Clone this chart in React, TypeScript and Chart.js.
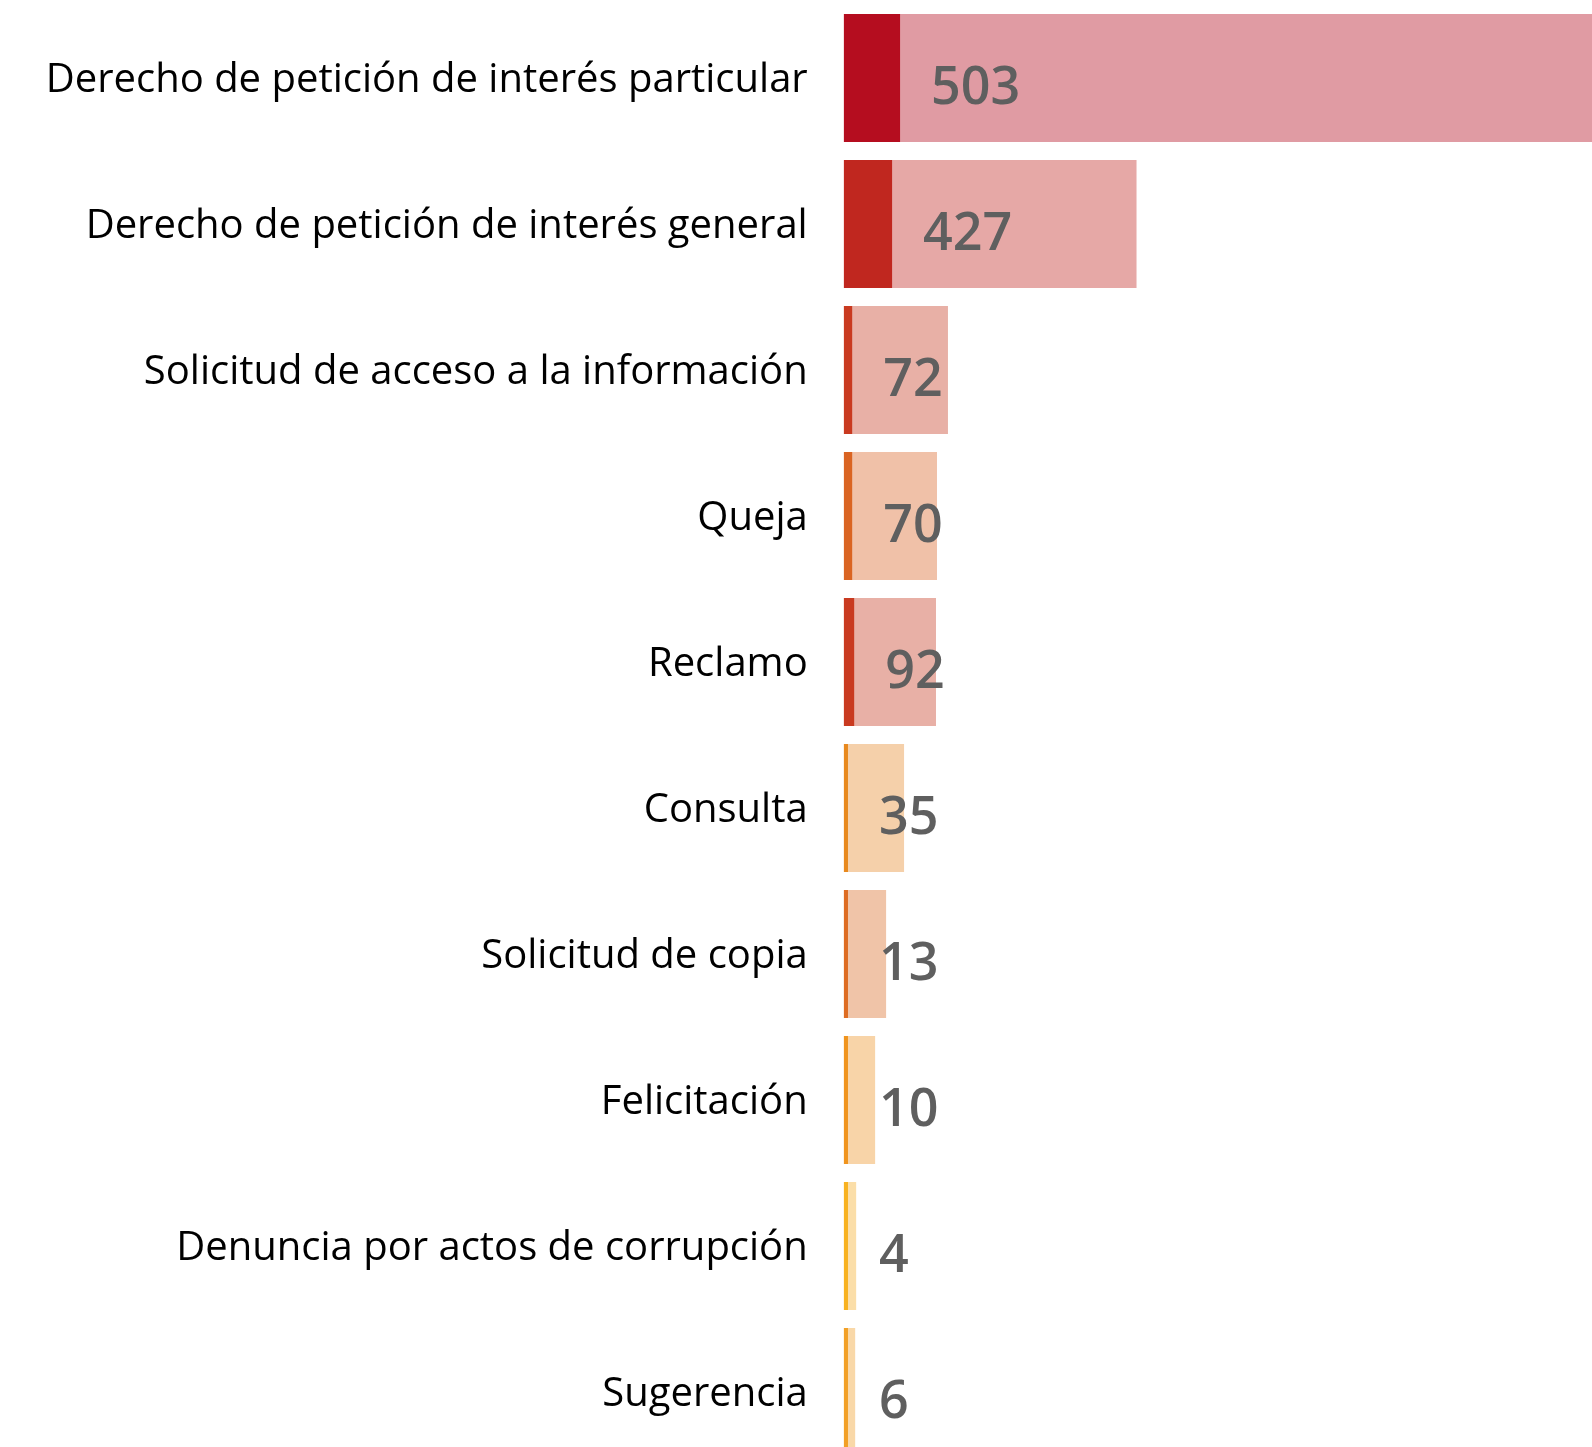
import React, { useEffect, useRef } from "react";
import { Chart, registerables } from "chart.js";

Chart.register(...registerables);

const categories = [
  "Derecho de petición de interés particular",
  "Derecho de petición de interés general",
  "Solicitud de acceso a la información",
  "Queja",
  "Reclamo",
  "Consulta",
  "Solicitud de copia",
  "Felicitación",
  "Denuncia por actos de corrupción",
  "Sugerencia",
];

// number shown on each bar
const counts = [503, 427, 72, 70, 92, 35, 13, 10, 4, 6];

// long (light) bar and short (dark) bar
const lightValues = [760, 293.5, 104.5, 93.5, 92.5, 60.5, 42.5, 31.5, 12.5, 11.5];
const darkValues = [56.5, 48.5, 8.5, 8.5, 10.5, 4.3, 4.3, 4.3, 4.3, 4.3];

const darkColors = [
  "#B50D1F",
  "#C0271F",
  "#C93A20",
  "#DA6422",
  "#C93A20",
  "#E8891E",
  "#DE6C22",
  "#F0941E",
  "#F8B220",
  "#F2A026",
];
const lightColors = [
  "#E09BA3",
  "#E6A8A6",
  "#E8B0A6",
  "#F0C1A8",
  "#E8B0A6",
  "#F5D0AA",
  "#F0C4A8",
  "#F8D4A8",
  "#FBDEA8",
  "#F9D8A8",
];

const X_MAX = 750;

const valueLabelPlugin = {
  id: "valueLabels",
  afterDatasetsDraw(chart: any) {
    const meta = chart.getDatasetMeta(0);
    const ctx = chart.ctx;
    ctx.save();
    ctx.font = "600 52px 'Open Sans'";
    ctx.fillStyle = "#5F5F5F";
    ctx.textAlign = "left";
    ctx.textBaseline = "alphabetic";
    meta.data.forEach((bar: any, i: number) => {
      ctx.fillText(String(counts[i]), bar.x + 31, bar.y + 26);
    });
    ctx.restore();
  },
};

export default function App() {
  const canvasRef = useRef<HTMLCanvasElement | null>(null);

  useEffect(() => {
    document.body.style.margin = "0";
    const canvas = canvasRef.current;
    if (!canvas) return;
    const chart = new Chart(canvas, {
      type: "bar",
      data: {
        labels: categories,
        datasets: [
          {
            label: "dark",
            data: darkValues,
            backgroundColor: darkColors,
            borderWidth: 0,
            grouped: false,
            categoryPercentage: 1,
            barPercentage: 128 / 146,
          },
          {
            label: "light",
            data: lightValues,
            backgroundColor: lightColors,
            borderWidth: 0,
            grouped: false,
            categoryPercentage: 1,
            barPercentage: 128 / 146,
          },
        ],
      },
      options: {
        indexAxis: "y",
        responsive: false,
        animation: false,
        devicePixelRatio: 1,
        layout: { padding: { top: 5, right: 0, bottom: 0, left: 0 } },
        plugins: {
          legend: { display: false },
          tooltip: { enabled: false },
        },
        scales: {
          x: {
            display: false,
            min: 0,
            max: X_MAX,
          },
          y: {
            position: "left",
            grid: { display: false, drawTicks: false },
            border: { display: false },
            ticks: {
              color: "#000000",
              font: { family: "'Open Sans'", size: 40 },
              padding: 36,
              labelOffset: 3,
            },
            afterFit(scale: any) {
              scale.width = 843.7;
              scale.paddingTop = 0;
              scale.paddingBottom = 0;
            },
          },
        },
      },
      plugins: [valueLabelPlugin],
    });
    return () => chart.destroy();
  }, []);

  return (
    <div style={{ width: 1592, height: 1447, overflow: "hidden" }}>
      <canvas ref={canvasRef} width={1592} height={1465} style={{ display: "block" }} />
    </div>
  );
}
